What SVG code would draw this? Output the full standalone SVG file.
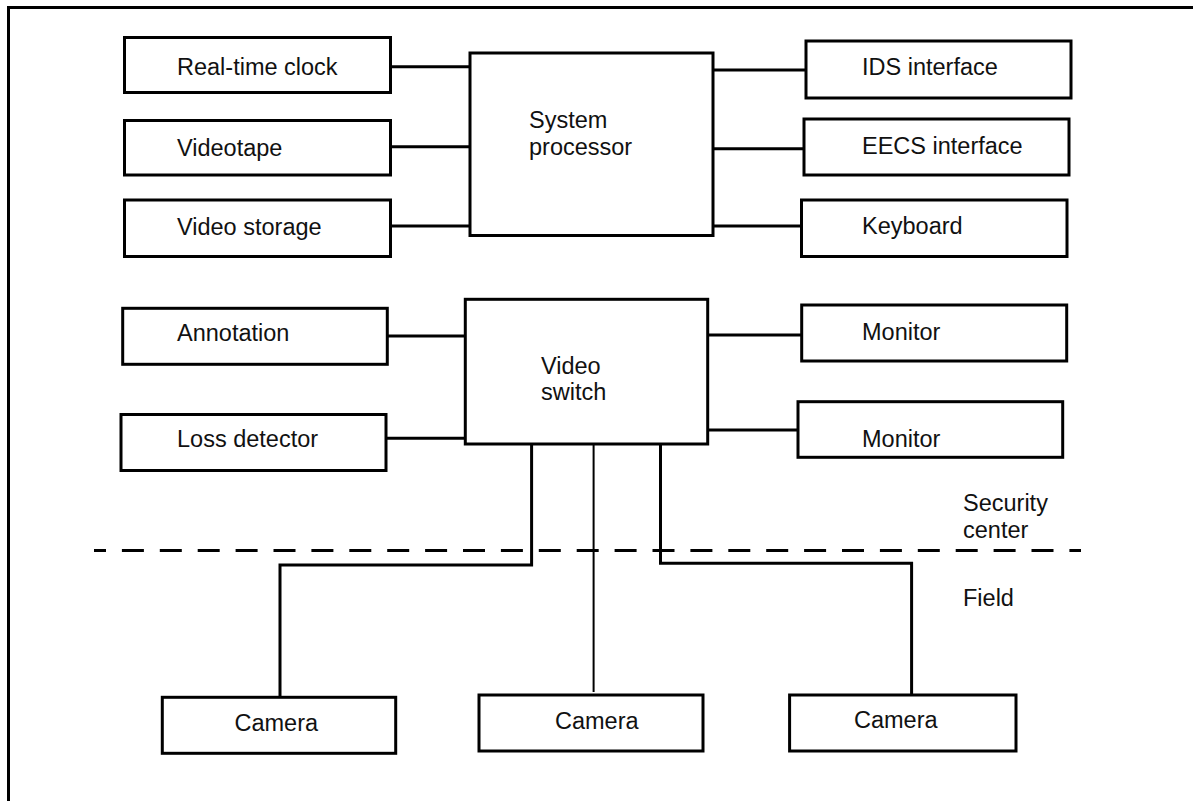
<svg xmlns="http://www.w3.org/2000/svg" width="1193" height="801" viewBox="0 0 1193 801">
<style>
  .box { fill: #ffffff; stroke: #000000; stroke-width: 3; }
  .lbl { font-family: "Liberation Sans", Arial, sans-serif; font-size: 23.5px; fill: #111111; }
  .wire { fill: none; stroke: #000000; stroke-width: 3; }
  .thin { fill: none; stroke: #000000; stroke-width: 2; }
  .dash { fill: none; stroke: #000000; stroke-width: 3; stroke-dasharray: 22 15.9; stroke-dashoffset: 10; }
</style>
<rect x="0" y="0" width="1193" height="801" fill="#ffffff"/>
<path class="wire" d="M8.5 801 V7.5 H1193"/>

<g id="connectors">
  <path class="wire" d="M390.5 66.7 H470"/>
  <path class="wire" d="M390.5 146.7 H470"/>
  <path class="wire" d="M390.5 226 H470"/>
  <path class="wire" d="M711.5 70 H806"/>
  <path class="wire" d="M711.5 148.7 H804"/>
  <path class="wire" d="M711.5 226 H801.5"/>
  <path class="wire" d="M387 336 H468"/>
  <path class="wire" d="M386 438.3 H465"/>
  <path class="wire" d="M708 335 H801.7"/>
  <path class="wire" d="M708 430 H800"/>
  <path class="wire" d="M531.6 444 V565 H280 V697"/>
  <path class="thin" d="M593.6 444 V692"/>
  <path class="wire" d="M660.5 442 V563.3 H911.6 V695"/>
</g>

<g id="boundary">
  <path class="dash" d="M94 550.5 H1081"/>
  <text class="lbl" x="963" y="510.5">Security</text>
  <text class="lbl" x="963" y="537.5">center</text>
  <text class="lbl" x="963" y="606">Field</text>
</g>

<g id="real-time-clock">
  <rect class="box" x="124.5" y="37.5" width="266" height="55"/>
  <text class="lbl" x="177" y="74.5">Real-time clock</text>
</g>
<g id="videotape">
  <rect class="box" x="124.5" y="120.5" width="266" height="54.5"/>
  <text class="lbl" x="177" y="156">Videotape</text>
</g>
<g id="video-storage">
  <rect class="box" x="124.5" y="200" width="266" height="56.5"/>
  <text class="lbl" x="177" y="235">Video storage</text>
</g>
<g id="system-processor">
  <rect class="box" x="470" y="53" width="243" height="182.5"/>
  <text class="lbl" x="529" y="128">System</text>
  <text class="lbl" x="529" y="155">processor</text>
</g>
<g id="ids-interface">
  <rect class="box" x="806" y="41" width="265" height="57"/>
  <text class="lbl" x="862" y="75">IDS interface</text>
</g>
<g id="eecs-interface">
  <rect class="box" x="804" y="119" width="265" height="56"/>
  <text class="lbl" x="862" y="154">EECS interface</text>
</g>
<g id="keyboard">
  <rect class="box" x="801.5" y="200" width="265.5" height="56.5"/>
  <text class="lbl" x="862" y="234">Keyboard</text>
</g>
<g id="annotation">
  <rect class="box" x="122.7" y="308.3" width="264.6" height="56"/>
  <text class="lbl" x="177" y="341">Annotation</text>
</g>
<g id="loss-detector">
  <rect class="box" x="121" y="414.5" width="265" height="56"/>
  <text class="lbl" x="177" y="447">Loss detector</text>
</g>
<g id="video-switch">
  <rect class="box" x="465.3" y="299.3" width="242.4" height="144.7"/>
  <text class="lbl" x="541" y="374">Video</text>
  <text class="lbl" x="541" y="400">switch</text>
</g>
<g id="monitor-1">
  <rect class="box" x="801.7" y="305" width="265" height="56"/>
  <text class="lbl" x="862" y="340">Monitor</text>
</g>
<g id="monitor-2">
  <rect class="box" x="798" y="401.7" width="264.7" height="55.6"/>
  <text class="lbl" x="862" y="446.7">Monitor</text>
</g>
<g id="camera-1">
  <rect class="box" x="162.3" y="697.3" width="233.4" height="56"/>
  <text class="lbl" x="234.5" y="731">Camera</text>
</g>
<g id="camera-2">
  <rect class="box" x="479" y="695" width="224" height="56"/>
  <text class="lbl" x="555" y="729">Camera</text>
</g>
<g id="camera-3">
  <rect class="box" x="789.6" y="695" width="226.4" height="56"/>
  <text class="lbl" x="854" y="728">Camera</text>
</g>
</svg>
